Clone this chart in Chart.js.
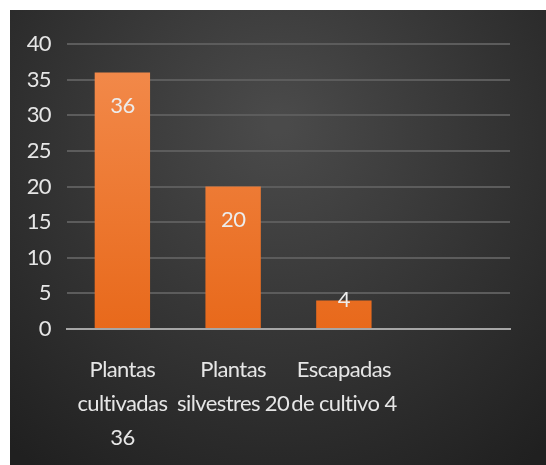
<!DOCTYPE html>
<html>
<head>
<meta charset="utf-8">
<script src="https://cdn.jsdelivr.net/npm/chart.js@4"></script>
<style>
  body { margin: 0; background: #fff; }
  #wrap { position: absolute; left: 10px; top: 10px; width: 536px; height: 455px; }
</style>
</head>
<body>
<div id="wrap"><canvas id="barChart"></canvas></div>
<script>
// Data
const categories = [
    ['Plantas', 'cultivadas', '36'],
    ['Plantas', 'silvestres 20'],
    ['Escapadas', 'de cultivo 4'],
    '',
];
const values = [36, 20, 4, null];
const yTicks = [0, 5, 10, 15, 20, 25, 30, 35, 40];

const fontFamily = 'Lato, Roboto, sans-serif';

// dark radial background behind everything, plus tighter letters
const bgPlugin = {
    id: 'bg',
    beforeDraw(chart) {
        const c = chart.ctx;
        const w = chart.width, h = chart.height;
        const g = c.createRadialGradient(w * 0.5, h * 0.25, 10, w * 0.5, h * 0.3, w * 0.75);
        g.addColorStop(0, '#4a4a4a');
        g.addColorStop(1, '#202020');
        c.save();
        c.fillStyle = g;
        c.fillRect(0, 0, w, h);
        c.restore();
        c.letterSpacing = '-0.6px';
    },
};

// value labels near the top inside each bar
const valueLabels = {
    id: 'valueLabels',
    afterDatasetsDraw(chart) {
        const c = chart.ctx;
        const meta = chart.getDatasetMeta(0);
        c.save();
        c.font = '22px ' + fontFamily;
        c.fillStyle = '#ececec';
        c.textAlign = 'center';
        c.textBaseline = 'middle';
        meta.data.forEach((bar, i) => {
            if (values[i] == null) return;
            const y = (bar.base - bar.y) > 66 ? bar.y + 33 : bar.y - 1;
            c.fillText(values[i], bar.x, y);
        });
        c.restore();
    },
};

const ctx = document.getElementById('barChart').getContext('2d');
const barChart = new Chart(ctx, {
    type: 'bar',
    data: {
        labels: categories,
        datasets: [{
            data: values,
            backgroundColor: function(context) {
                const area = context.chart.chartArea;
                if (!area) return '#ee7a30';
                const g = context.chart.ctx.createLinearGradient(0, area.top, 0, area.bottom);
                g.addColorStop(0, '#f38c4e');
                g.addColorStop(1, '#e8691b');
                return g;
            },
            borderWidth: 0,
            categoryPercentage: 1,
            barPercentage: 0.5,
        }],
    },
    options: {
        responsive: true,
        maintainAspectRatio: false,
        animation: false,
        layout: {
            padding: { top: 34, right: 36, left: 0, bottom: 0 },
        },
        plugins: {
            legend: { display: false },
            tooltip: { enabled: false },
        },
        scales: {
            x: {
                grid: { display: false, drawTicks: false },
                border: { color: '#a6a6a6', width: 2 },
                ticks: {
                    color: '#e6e6e6',
                    padding: 24,
                    maxRotation: 0,
                    autoSkip: false,
                    font: { family: fontFamily, size: 22, lineHeight: 1.55 },
                },
                afterFit: function(scale) { scale.height = 136; },
            },
            y: {
                min: 0,
                max: 40,
                afterBuildTicks: function(scale) {
                    scale.ticks = yTicks.map(v => ({ value: v }));
                },
                grid: { color: '#5c5c5c', lineWidth: 2, drawTicks: false },
                border: { display: false },
                ticks: {
                    color: '#e6e6e6',
                    padding: 16,
                    font: { family: fontFamily, size: 22 },
                },
                afterFit: function(scale) { scale.width = 57; },
            },
        },
    },
    plugins: [bgPlugin, valueLabels],
});
</script>
</body>
</html>
